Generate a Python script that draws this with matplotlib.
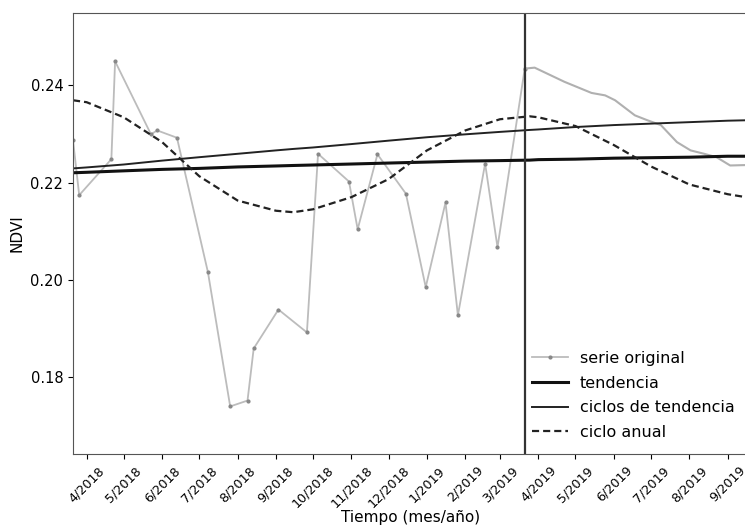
import datetime as dt
import matplotlib
matplotlib.use('Agg')
import matplotlib.pyplot as plt
import matplotlib.dates as mdates
from matplotlib.ticker import FuncFormatter

# serie original (fechas de las imagenes y NDVI)
obs_dates = ['2018-03-21', '2018-03-26', '2018-04-21', '2018-04-24', '2018-05-23',
             '2018-05-28', '2018-06-13', '2018-07-08', '2018-07-26', '2018-08-09',
             '2018-08-14', '2018-09-03', '2018-09-26', '2018-10-05', '2018-10-30',
             '2018-11-06', '2018-11-22', '2018-12-15', '2018-12-31', '2019-01-16',
             '2019-01-26', '2019-02-17', '2019-02-27', '2019-03-21']
obs_ndvi = [0.2287, 0.2174, 0.2248, 0.2449, 0.2299,
            0.2307, 0.2292, 0.2016, 0.1740, 0.1752,
            0.1859, 0.1939, 0.1892, 0.2259, 0.2202,
            0.2104, 0.2258, 0.2177, 0.1985, 0.2159,
            0.1927, 0.2239, 0.2067, 0.2434]

# continuacion de la serie despues del corte
pred_dates = ['2019-03-21', '2019-03-29', '2019-04-22', '2019-05-14', '2019-05-25',
              '2019-06-02', '2019-06-18', '2019-06-28', '2019-07-09', '2019-07-22',
              '2019-08-02', '2019-08-13', '2019-08-23', '2019-09-03', '2019-09-18']
pred_ndvi = [0.2434, 0.2436, 0.2407, 0.2384, 0.2379,
             0.2369, 0.2338, 0.2328, 0.2318, 0.2283,
             0.2266, 0.2259, 0.2252, 0.2235, 0.2236]

# componentes (lecturas mensuales)
comp_dates = ['2018-03-21', '2018-04-01', '2018-05-01', '2018-06-01', '2018-07-01',
              '2018-08-01', '2018-09-01', '2018-09-15', '2018-10-01', '2018-11-01',
              '2018-12-01', '2019-01-01', '2019-02-01', '2019-03-01', '2019-03-25',
              '2019-04-01', '2019-05-01', '2019-06-01', '2019-07-01', '2019-08-01',
              '2019-09-01', '2019-09-18']
tendencia = [0.2220, 0.2221, 0.2224, 0.2227, 0.2229,
             0.2232, 0.2234, 0.2235, 0.2236, 0.2238,
             0.2240, 0.2242, 0.2244, 0.2245, 0.2246,
             0.2247, 0.2248, 0.2250, 0.2251, 0.2252,
             0.2254, 0.2254]
ciclos_tendencia = [0.2229, 0.2231, 0.2237, 0.2245, 0.2252,
                    0.2259, 0.2266, 0.2269, 0.2272, 0.2279,
                    0.2286, 0.2293, 0.2299, 0.2304, 0.2308,
                    0.2309, 0.2314, 0.2318, 0.2321, 0.2324,
                    0.2327, 0.2328]
ciclo_anual = [0.2369, 0.2365, 0.2334, 0.2283, 0.2213,
               0.2163, 0.2142, 0.2139, 0.2145, 0.2170,
               0.2207, 0.2266, 0.2307, 0.2330, 0.2336,
               0.2334, 0.2316, 0.2277, 0.2233, 0.2196,
               0.2176, 0.2169]

fecha_corte = '2019-03-21'


def to_dt(lst):
    return [dt.datetime.strptime(s, '%Y-%m-%d') for s in lst]


fig = plt.figure(figsize=(7.45, 5.25), dpi=100)
ax = fig.add_axes([0.098, 0.135, 0.907, 0.84])

ax.plot(to_dt(obs_dates), obs_ndvi, color='#bcbcbc', lw=1.3, marker='.',
        markersize=4, markerfacecolor='#888888', markeredgecolor='#888888',
        label='serie original')
ax.plot(to_dt(pred_dates), pred_ndvi, color='#b0b0b0', lw=1.5)
ax.plot(to_dt(comp_dates), tendencia, color='#111111', lw=2.2, label='tendencia')
ax.plot(to_dt(comp_dates), ciclos_tendencia, color='#222222', lw=1.4,
        label='ciclos de tendencia')
ax.plot(to_dt(comp_dates), ciclo_anual, color='#222222', lw=1.6, ls=(0, (3.2, 1.8)),
        label='ciclo anual')
ax.axvline(to_dt([fecha_corte])[0], color='#333333', lw=1.6)

ax.set_xlim(dt.datetime(2018, 3, 21), dt.datetime(2019, 9, 18))
ax.set_ylim(0.1642, 0.2548)
ax.set_yticks([0.18, 0.20, 0.22, 0.24])
ax.yaxis.set_major_formatter(FuncFormatter(lambda v, p: '%.2f' % v))
ax.xaxis.set_major_locator(mdates.MonthLocator())
ax.xaxis.set_major_formatter(FuncFormatter(
    lambda v, p: '%d/%d' % (mdates.num2date(v).month, mdates.num2date(v).year)))
plt.setp(ax.get_xticklabels(), rotation=45, ha='center', fontsize=9.2)
ax.tick_params(axis='y', labelsize=10.5)
ax.spines['right'].set_visible(False)
for s in ['left', 'top', 'bottom']:
    ax.spines[s].set_color('#555555')

ax.set_xlabel('Tiempo (mes/año)', fontsize=11, labelpad=0)
ax.set_ylabel('NDVI', fontsize=11)
ax.legend(loc='lower right', frameon=False, fontsize=11.5, handlelength=2.3,
          handletextpad=0.7, labelspacing=0.6)

fig.savefig('out.png', dpi=100)
